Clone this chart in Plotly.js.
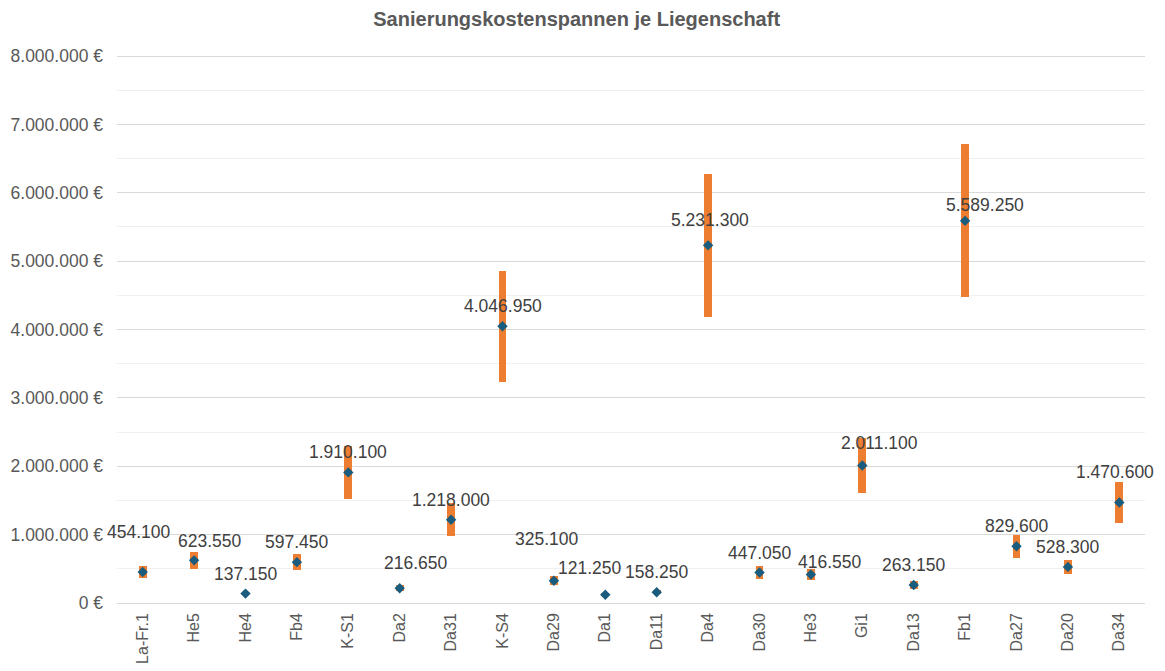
<!DOCTYPE html>
<html>
<head>
<meta charset="utf-8">
<script src="https://cdn.plot.ly/plotly-3.0.1.min.js"></script>
<style>html,body{margin:0;padding:0;background:#fff;}#chart{width:1165px;height:671px;}</style>
</head>
<body>
<div id="chart"></div>
<script>
const categories = ["La-Fr.1","He5","He4","Fb4","K-S1","Da2","Da31","K-S4","Da29","Da1","Da11","Da4","Da30","He3","Gi1","Da13","Fb1","Da27","Da20","Da34"];
const midValues = [454100,623550,137150,597450,1910100,216650,1218000,4046950,325100,121250,158250,5231300,447050,416550,2011100,263150,5589250,829600,528300,1470600];
const lowValues = [363000,499000,110000,478000,1528000,173000,974000,3238000,260000,97000,127000,4185000,358000,333000,1609000,211000,4471000,664000,423000,1176000];
const highValues = [545000,748000,165000,717000,2292000,260000,1462000,4856000,390000,146000,190000,6278000,536000,500000,2413000,316000,6707000,996000,634000,1765000];

// label placement (pixel shifts relative to the marker)
const labelDx = [-4,16,0,0,0,16,0,0,-7,-15,0,2,0,19,17,0,20,0,0,-4];
const labelDy = [40,19,20,20,20,25,20,20,42,27,20,25,19,13,23,20,16,20,20,30];

function fmt(v){ return String(v).replace(/\B(?=(\d{3})+(?!\d))/g,'.'); }

const rangeTrace = {
  type:'bar', x:categories, base:lowValues,
  y:highValues.map((h,i)=>h-lowValues[i]),
  width:0.155, marker:{color:'#ED7D31'}, hoverinfo:'skip', showlegend:false
};
const midTrace = {
  type:'scatter', mode:'markers', x:categories, y:midValues,
  marker:{symbol:'diamond', size:8, color:'#1A5C7E'}, showlegend:false
};

const annotations = categories.map((c,i)=>({
  x:c, y:midValues[i], text:fmt(midValues[i]), showarrow:false,
  xshift:labelDx[i], yshift:labelDy[i],
  font:{family:'Liberation Sans, Arial, sans-serif', size:17.5, color:'#404040'}
}));

const layout = {
  width:1165, height:671,
  margin:{l:117, r:20, t:55, b:68},
  paper_bgcolor:'#fff', plot_bgcolor:'#fff',
  separators:',.',
  title:{text:'<b>Sanierungskostenspannen je Liegenschaft</b>', x:0.495, xanchor:'center', y:0.972, yanchor:'middle',
         font:{family:'Liberation Sans, Arial, sans-serif', size:20, color:'#595959'}},
  font:{family:'Liberation Sans, Arial, sans-serif', color:'#595959'},
  xaxis:{type:'category', tickangle:-90, showgrid:false, zeroline:false, showline:false, ticks:'',
         tickfont:{size:16, color:'#595959'}, ticklabelstandoff:6, range:[-0.5,19.5]},
  yaxis:{range:[0,8015000], dtick:1000000, tickformat:',d', ticksuffix:' €', showgrid:true, gridcolor:'#d9d9d9', gridwidth:1,
         zeroline:true, zerolinecolor:'#d9d9d9', showline:false, ticks:'', tickfont:{size:17.5, color:'#595959'}, ticklabelstandoff:13,
         minor:{dtick:500000, showgrid:true, gridcolor:'#f0f0f0', gridwidth:1}},
  annotations:annotations,
  bargap:0
};

Plotly.newPlot('chart',[rangeTrace, midTrace],layout,{displayModeBar:false, staticPlot:true});
</script>
</body>
</html>
